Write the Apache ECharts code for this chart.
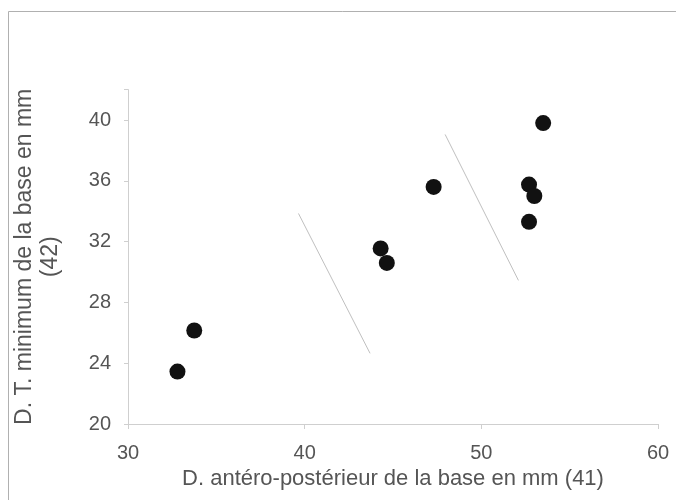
<!DOCTYPE html>
<html>
<head>
<meta charset="utf-8">
<script src="https://cdn.jsdelivr.net/npm/echarts@6/dist/echarts.min.js"></script>
<style>
html,body{margin:0;padding:0;background:#fff;}
#c{width:676px;height:500px;}
</style>
</head>
<body>
<div id="c"></div>
<script>
// Data
var xValues = [32.8, 33.75, 44.3, 44.65, 47.3, 52.7, 53.0, 52.7, 53.5];
var yValues = [23.45, 26.15, 31.55, 30.6, 35.6, 35.75, 35.0, 33.3, 39.8];
var line1X = [39.65, 43.7];
var line1Y = [33.85, 24.65];
var line2X = [47.95, 52.1];
var line2Y = [39.05, 29.45];
var xTicks = [30, 40, 50, 60];
var yTicks = [20, 24, 28, 32, 36, 40];
var xTitle = 'D. antéro-postérieur de la base en mm (41)';
var yTitle = 'D. T. minimum de la base en mm\n(42)';

var points = xValues.map(function (x, i) { return [x, yValues[i]]; });
var seg1 = line1X.map(function (x, i) { return [x, line1Y[i]]; });
var seg2 = line2X.map(function (x, i) { return [x, line2Y[i]]; });

var textColor = '#555555';
var axisColor = '#cfcfcf';
var font = 'Liberation Sans, Arial, sans-serif';

var chart = echarts.init(document.getElementById('c'), null, {renderer: 'canvas'});
chart.setOption({
  animation: false,
  backgroundColor: '#fff',
  grid: {left: 128, right: 18, top: 89.6, bottom: 76, containLabel: false},
  graphic: [{
    type: 'rect',
    shape: {x: 8.5, y: 11.5, width: 700, height: 520},
    style: {fill: 'none', stroke: '#b0b0b0', lineWidth: 1},
    silent: true
  }],
  xAxis: {
    type: 'value', min: 30, max: 60, interval: 10,
    axisLine: {show: true, lineStyle: {color: axisColor, width: 1}},
    axisTick: {show: true, length: 5, lineStyle: {color: axisColor}},
    splitLine: {show: false},
    axisLabel: {color: textColor, fontSize: 20, fontFamily: font, margin: 19,
      formatter: function (v) { return xTicks.indexOf(v) >= 0 ? String(v) : ''; }},
    name: xTitle, nameLocation: 'middle', nameGap: 37,
    nameTextStyle: {color: textColor, fontSize: 22, fontFamily: font, verticalAlign: 'top'}
  },
  yAxis: {
    type: 'value', min: 20, max: 42, interval: 4,
    axisLine: {show: true, lineStyle: {color: axisColor, width: 1}},
    axisTick: {show: true, length: 4, lineStyle: {color: axisColor}},
    splitLine: {show: false},
    axisLabel: {color: textColor, fontSize: 20, fontFamily: font, margin: 17,
      formatter: function (v) { return yTicks.indexOf(v) >= 0 ? String(v) : ''; }},
    name: yTitle, nameLocation: 'middle', nameGap: 64, nameRotate: 90,
    nameTextStyle: {color: textColor, fontSize: 23, fontFamily: font, lineHeight: 26, align: 'center'}
  },
  series: [
    {type: 'line', data: seg1, symbol: 'none', lineStyle: {color: '#c0c0c0', width: 1}, silent: true},
    {type: 'line', data: seg2, symbol: 'none', lineStyle: {color: '#c0c0c0', width: 1}, silent: true},
    {type: 'scatter', data: points, symbol: 'circle', symbolSize: 16,
      itemStyle: {color: '#111', opacity: 1}}
  ]
});
</script>
</body>
</html>
